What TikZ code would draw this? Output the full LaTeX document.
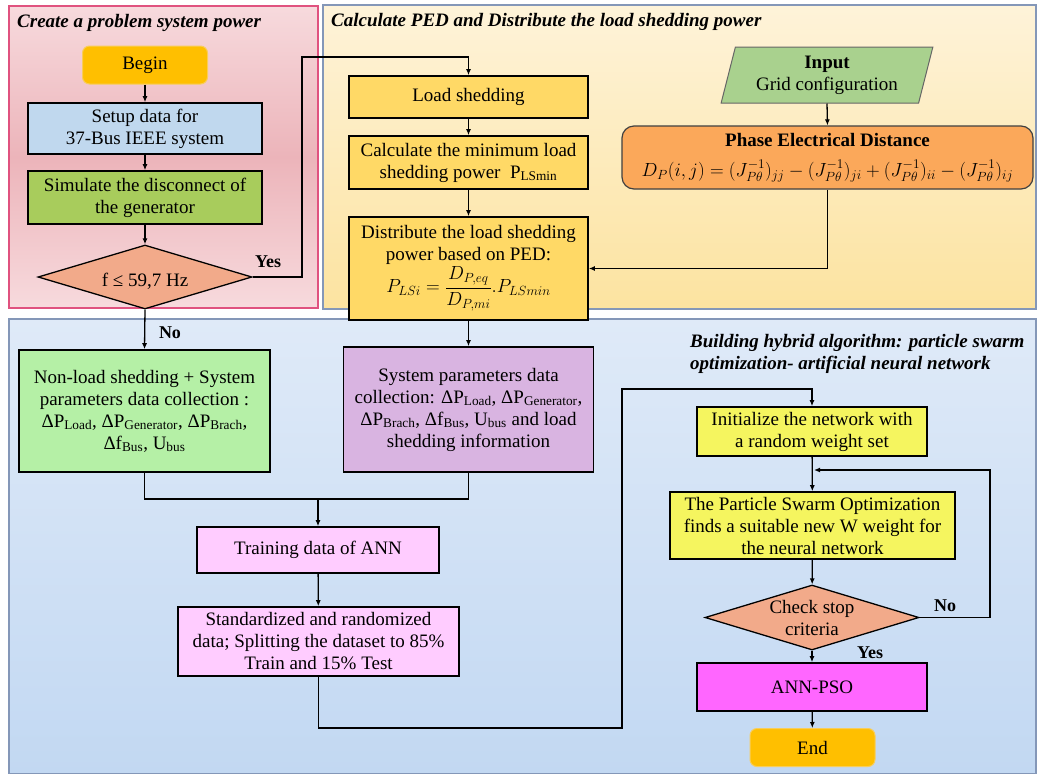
\RequirePackage{fix-cm}
\documentclass[tikz,border=0pt]{standalone}
\usepackage{amsmath}
\usepackage{fontspec}
\setmainfont{Liberation Serif}
\usetikzlibrary{shapes.geometric,arrows.meta,calc}
\definecolor{pinkT}{HTML}{F7DADD}
\definecolor{pinkM}{HTML}{ECB4BA}
\definecolor{pinkBorder}{HTML}{E0527F}
\definecolor{yelT}{HTML}{FEF3D9}
\definecolor{yelB}{HTML}{FCE3A0}
\definecolor{bluT}{HTML}{DFEAF8}
\definecolor{bluB}{HTML}{C2D8F2}
\definecolor{panelBorder}{HTML}{8497B8}
\definecolor{termFill}{HTML}{FFBF00}
\definecolor{termBorder}{HTML}{F8CD5A}
\definecolor{setupBlue}{HTML}{C0D8EE}
\definecolor{simGreen}{HTML}{A8CC5C}
\definecolor{salmon}{HTML}{F2AA8A}
\definecolor{ldy}{HTML}{FFD966}
\definecolor{inputGreen}{HTML}{A9D18E}
\definecolor{pedOrange}{HTML}{FBA85A}
\definecolor{lgreen}{HTML}{B5F0A6}
\definecolor{lpurple}{HTML}{D9B4E1}
\definecolor{lpink}{HTML}{FFCCFF}
\definecolor{lyellow}{HTML}{F5F55F}
\definecolor{magentaB}{HTML}{FF66FF}
\newcommand{\dtext}[2][-3pt]{\smash{\makebox[0pt]{\raisebox{#1}{\begin{tabular}{@{}c@{}}#2\end{tabular}}}}}
\newcommand{\lsub}[1]{\textsubscript{#1}}
\begin{document}
\begin{tikzpicture}[x=1pt,y=-1pt,
  every node/.style={font=\fontsize{19}{22}\selectfont},
  box/.style={draw=black, line width=1.6pt, inner sep=0pt, align=center},
  term/.style={rounded corners=7pt, fill=termFill, draw=termBorder, line width=1pt, inner sep=0pt, minimum width=125pt, minimum height=38pt},
  dia/.style={diamond, draw=black, line width=1.3pt, fill=salmon, inner sep=0pt},
  arr/.style={draw=black, line width=1.3pt, -{Latex[length=6pt,width=5pt]}},
  conn/.style={draw=black, line width=1.3pt},
  lbl/.style={font=\fontsize{18}{20}\selectfont\bfseries, inner sep=0pt},
  ttl/.style={font=\fontsize{19}{22}\selectfont\bfseries\itshape, inner sep=0pt}]
\fill[white] (0,0) rectangle (1037,774);
\useasboundingbox (0,0) rectangle (1037,774);
% panels
\path[draw=pinkBorder, line width=1.2pt, top color=pinkT, bottom color=pinkT, middle color=pinkM] (9,6) rectangle (318,308);
\path[draw=panelBorder, line width=1.2pt, top color=yelT, bottom color=yelB] (323,5) rectangle (1036,309);
\path[draw=panelBorder, line width=1.2pt, top color=bluT, bottom color=bluB] (9,319) rectangle (1036,774);
% titles
\node[ttl, anchor=west] (t1) at (17,23) {Create a problem system power};
\node[ttl, anchor=west] (t2) at (331,22) {Calculate PED and Distribute the load shedding power};
\node[ttl, anchor=north west, align=left] (t3) at (690,334) {Building hybrid algorithm: particle swarm\\optimization- artificial neural network};
% left panel
\node[term] (begin) at (145,65) {Begin};
\node[box, fill=setupBlue, minimum width=234pt, minimum height=51pt] (setup) at (145,128.5) {Setup data for\\37-Bus IEEE system};
\node[box, fill=simGreen, minimum width=234pt, minimum height=53pt] (sim) at (145,197.5) {Simulate the disconnect of\\the generator};
\node[dia, minimum width=214pt, minimum height=64pt] (d1) at (145,277) {\dtext[-10pt]{f ≤ 59,7 Hz}};
% middle column
\node[box, fill=ldy, minimum width=239pt, minimum height=42pt] (ls) at (468.5,97) {Load shedding};
\node[box, fill=ldy, minimum width=239pt, minimum height=53pt] (calc) at (468.5,162.5) {Calculate the minimum load\\shedding power\ \ P\lsub{LSmin}};
\node[box, fill=ldy, minimum width=239pt, minimum height=103pt] (dist) at (468.5,268.5) {Distribute the load shedding\\power based on PED:\\[1pt]$P_{LSi}=\dfrac{D_{P,eq}}{D_{P,mi}}.P_{LSmin}$};
\node[trapezium, trapezium left angle=74, trapezium right angle=106, trapezium stretches=true, draw=black!60, line width=1pt, fill=inputGreen, minimum width=212pt, minimum height=56pt, inner sep=0pt, align=center] (input) at (827,75) {\textbf{Input}\\Grid configuration};
\node[draw=black!75, line width=1.2pt, rounded corners=12pt, fill=pedOrange, minimum width=411pt, minimum height=63pt, inner sep=0pt, align=center] (ped) at (827.5,157.5) {\textbf{Phase Electrical Distance}\\[8pt]$D_P(i,j)=(J_{P\theta}^{-1})_{jj}-(J_{P\theta}^{-1})_{ji}+(J_{P\theta}^{-1})_{ii}-(J_{P\theta}^{-1})_{ij}$};
% bottom panel
\node[box, fill=lgreen, minimum width=251pt, minimum height=122pt] (green) at (144.5,411) {Non-load shedding + System\\parameters data collection :\\ΔP\lsub{Load}, ΔP\lsub{Generator}, ΔP\lsub{Brach},\\Δf\lsub{Bus}, U\lsub{bus}};
\node[box, fill=lpurple, minimum width=250pt, minimum height=125pt] (purple) at (468.5,409.5) {System parameters data\\collection: ΔP\lsub{Load}, ΔP\lsub{Generator},\\ΔP\lsub{Brach}, Δf\lsub{Bus}, U\lsub{bus} and load\\shedding information};
\node[box, fill=lpink, minimum width=242pt, minimum height=46pt] (train) at (318,550) {Training data of ANN};
\node[box, fill=lpink, minimum width=281pt, minimum height=69pt] (std) at (318.5,641.5) {Standardized and randomized\\data; Splitting the dataset to 85\%\\Train and 15\% Test};
\node[box, fill=lyellow, minimum width=230pt, minimum height=49pt] (init) at (812,431.5) {Initialize the network with\\a random weight set};
\node[box, fill=lyellow, minimum width=285pt, minimum height=67pt] (pso) at (812.5,525.5) {The Particle Swarm Optimization\\finds a suitable new W weight for\\the neural network};
\node[dia, minimum width=214pt, minimum height=65pt] (check) at (812,617.5) {\dtext[-7pt]{Check stop\\criteria}};
\node[box, fill=magentaB, minimum width=230pt, minimum height=48pt] (ann) at (812,687) {ANN-PSO};
\node[term] (end) at (812.5,747.5) {End};
% labels
\node[lbl] (yes1) at (268,262) {Yes};
\node[lbl] (no1) at (170,333) {No};
\node[lbl] (no2) at (945,606) {No};
\node[lbl] (yes2) at (870,653) {Yes};
% coordinates
\coordinate (yesTurn) at (302,57);
\coordinate (merge) at (318,499);
\coordinate (c1) at (622,728);
\coordinate (c2) at (622,389);
\coordinate (loop) at (990,470);
\coordinate (loopIn) at (814,470);
% connectors
\draw[arr] (begin) -- (setup);
\draw[arr] (setup) -- (sim);
\draw[arr] (sim) -- (d1);
\draw[arr] (d1.east) -| (yesTurn) -| (ls.north);
\draw[arr] (d1.south) -- (green.north);
\draw[arr] (ls) -- (calc);
\draw[arr] (calc) -- (dist);
\draw[arr] (input.south) -- (ped.north);
\draw[arr] (ped.south) |- (dist.east);
\draw[arr] (dist.south) -- (purple.north);
\draw[conn] (green.south) |- (merge);
\draw[conn] (purple.south) |- (merge);
\draw[arr] (merge) -- (train.north);
\draw[arr] (train) -- (std);
\draw[arr] (std.south) |- (c1) -- (c2) -| (init.north);
\draw[arr] (init) -- (pso);
\draw[arr] (pso) -- (check);
\draw[arr] (check) -- (ann);
\draw[arr] (ann) -- (end);
\draw[arr] (check.east) -| (loop) -- (loopIn);
\end{tikzpicture}
\end{document}
